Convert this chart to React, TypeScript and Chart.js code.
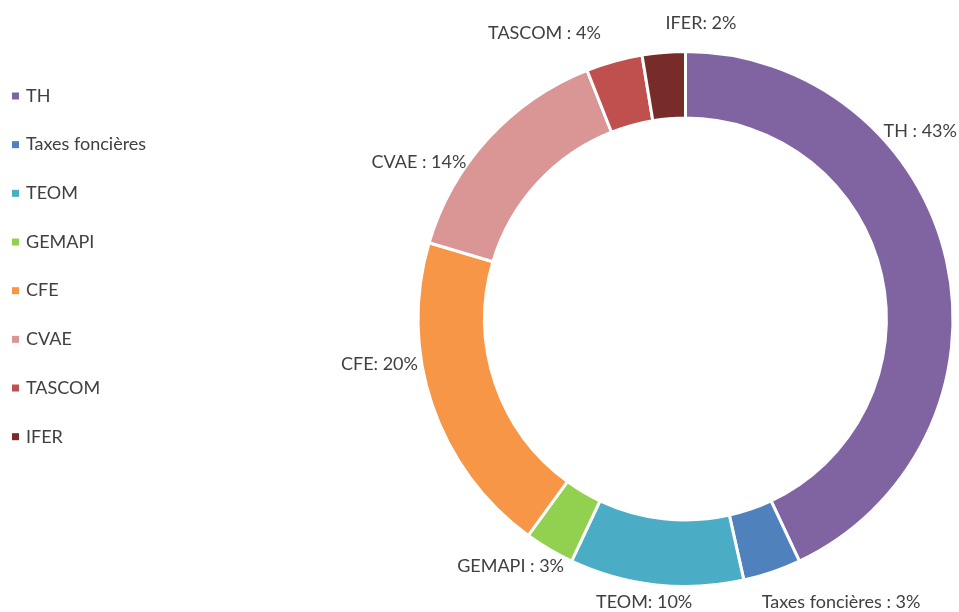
import React, { useEffect, useRef } from "react";
import { Chart, registerables } from "chart.js";

Chart.register(...registerables);

const categories = ["TH", "Taxes foncières", "TEOM", "GEMAPI", "CFE", "CVAE", "TASCOM", "IFER"];
const shares = [43.0, 3.5, 10.5, 3.0, 19.6, 14.4, 3.4, 2.6];
const labelTexts = ["TH : 43%", "Taxes foncières : 3%", "TEOM: 10%", "GEMAPI : 3%", "CFE: 20%", "CVAE : 14%", "TASCOM : 4%", "IFER: 2%"];
const sliceColors = ["#8064A2", "#4F81BD", "#4BACC6", "#92D050", "#F79646", "#D99694", "#C0504D", "#772C2A"];

// label placement: angle clockwise from 12 o'clock (deg), distance as a multiple of the outer radius
const labelAngles = [51.3, 151.2, 188.3, 215.3, 261.6, 300.4, 333.75, 3.0];
const labelDistances = [1.131, 1.214, 1.077, 1.138, 1.163, 1.162, 1.199, 1.114];

const FONT = "18px Lato, 'Open Sans', sans-serif";
const TEXT_COLOR = "#404040";
const BORDER = 3;

const labelsPlugin = {
  id: "sliceLabels",
  afterDraw(chart: any) {
    const meta = chart.getDatasetMeta(0);
    if (!meta || !meta.data.length) return;
    const arc = meta.data[0];
    const { x, y, outerRadius } = arc.getProps(["x", "y", "outerRadius"], true);
    const R = outerRadius - BORDER / 2;
    const ctx = chart.ctx;
    ctx.save();
    ctx.font = FONT;
    ctx.fillStyle = TEXT_COLOR;
    ctx.textAlign = "center";
    ctx.textBaseline = "middle";
    labelTexts.forEach((t, i) => {
      const a = (labelAngles[i] * Math.PI) / 180;
      const d = labelDistances[i] * R;
      ctx.fillText(t, x + d * Math.sin(a), y - d * Math.cos(a));
    });
    ctx.restore();
  },
};

const legendPlugin = {
  id: "sideLegend",
  afterDraw(chart: any) {
    const ctx = chart.ctx;
    const labels = chart.data.labels as string[];
    const bg = chart.data.datasets[0].backgroundColor as string[];
    const left = 12;
    const top = 96;
    const step = 48.67;
    ctx.save();
    ctx.font = FONT;
    ctx.textAlign = "left";
    ctx.textBaseline = "middle";
    labels.forEach((lab, i) => {
      const cy = top + i * step;
      ctx.fillStyle = bg[i];
      ctx.fillRect(left, cy - 3.5, 7, 7);
      ctx.fillStyle = TEXT_COLOR;
      ctx.fillText(lab, left + 14, cy);
    });
    ctx.restore();
  },
};

export default function App() {
  const ref = useRef<HTMLCanvasElement | null>(null);
  useEffect(() => {
    if (!ref.current) return;
    const chart = new Chart(ref.current, {
      type: "doughnut",
      data: {
        labels: categories,
        datasets: [
          {
            data: shares,
            backgroundColor: sliceColors,
            borderColor: "#ffffff",
            borderWidth: BORDER,
          },
        ],
      },
      options: {
        responsive: false,
        animation: false,
        cutout: "75.1%",
        layout: { padding: { left: 416.5, right: 4.5, top: 50, bottom: 24 } },
        plugins: {
          legend: { display: false },
          tooltip: { enabled: false },
        },
      },
      plugins: [labelsPlugin, legendPlugin],
    });
    return () => chart.destroy();
  }, []);
  return (
    <div style={{ position: "fixed", left: 0, top: 0, width: 959, height: 612, background: "#ffffff" }}>
      <canvas ref={ref} width={959} height={612} style={{ display: "block" }} />
    </div>
  );
}
